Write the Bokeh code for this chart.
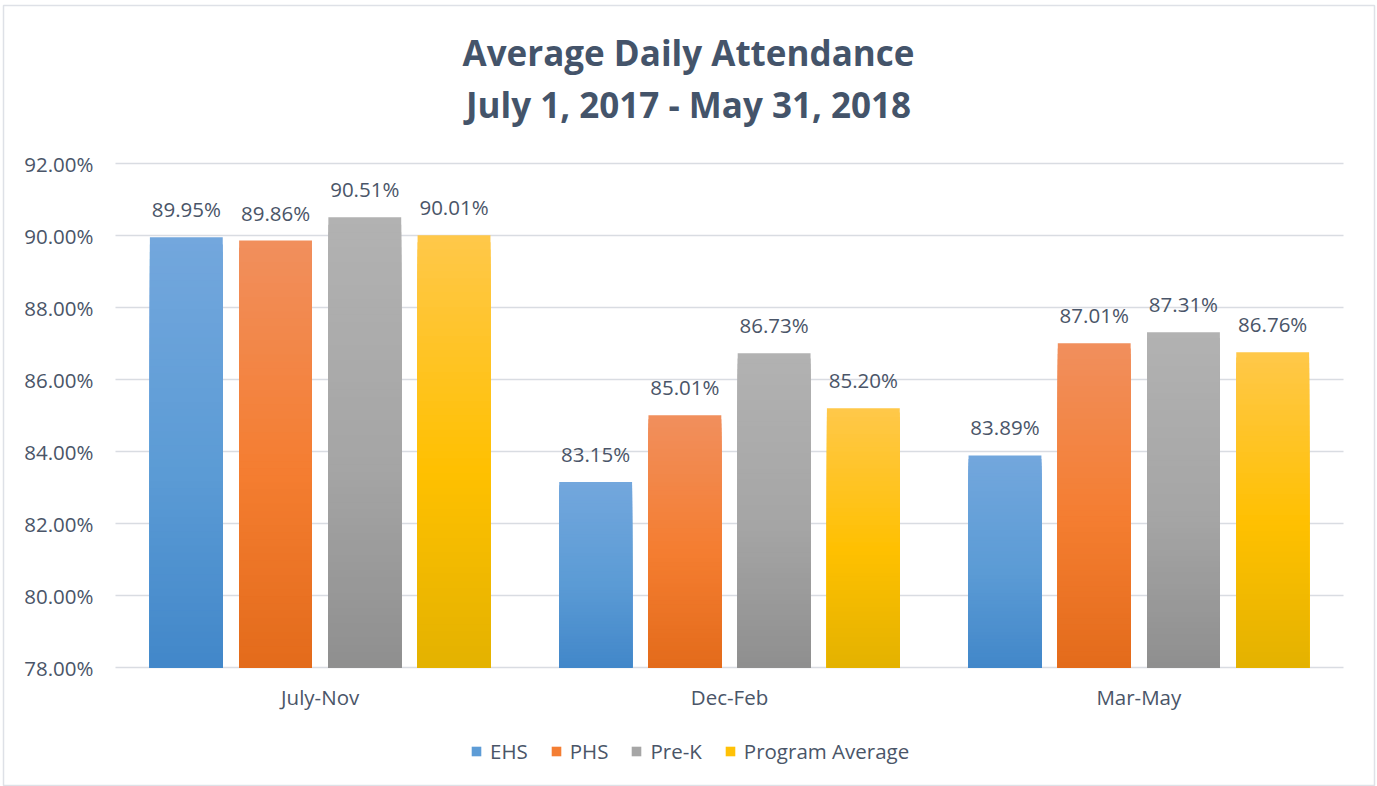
import numpy as np
from bokeh.plotting import figure
from bokeh.models import (ColumnDataSource, Range1d, FixedTicker, CustomJSTickFormatter,
                          PrintfTickFormatter, Legend, LegendItem, Label)
from bokeh.core.properties import value
from bokeh.embed import file_html
from bokeh.resources import INLINE

# ---------------- data ----------------
categories = ["July-Nov", "Dec-Feb", "Mar-May"]
series = ["EHS", "PHS", "Pre-K", "Program Average"]
ehs = [89.95, 83.15, 83.89]
phs = [89.86, 85.01, 87.01]
prek = [90.51, 86.73, 87.31]
prog_avg = [90.01, 85.20, 86.76]
y_ticks = [78, 80, 82, 84, 86, 88, 90, 92]
title_lines = ["Average Daily Attendance", "July 1, 2017 - May 31, 2018"]

values = [ehs, phs, prek, prog_avg]

# ---------------- style ----------------
BASE = 78
FONT = "Open Sans"
TEXT = "#44546A"
LABEL = "#4A5568"
GRID = "#D9DCE2"
BORDER = "#DEE1E7"
FS = "20.5px"
W, H = 1377, 786
PAD_L, PAD_T, PAD_R, PAD_B = 3, 5, 3, 0     # outer chart border
XL_PX, XR_PX = 115, 1343                      # plot area left / right
TOP_PX, BOT_PX = 163, 667                     # pixel rows of 92 % and 78 %
ncat = len(categories)
px_per_x = (XR_PX - XL_PX) / ncat
px_per_y = (BOT_PX - TOP_PX) / (y_ticks[-1] - y_ticks[0])

# gradient stops: bottom, middle, top
stops = [
    ("#4287C9", "#5B9BD5", "#73A7DD"),
    ("#E36B1B", "#F47D30", "#F18F5D"),
    ("#8F8F8F", "#A5A5A5", "#B2B2B2"),
    ("#E3B200", "#FFC000", "#FFC84A"),
]
offsets = [-0.327, -0.109, 0.109, 0.327]
BAR_W = 0.178
N = 60


def hex2rgb(h):
    h = h.lstrip("#")
    return np.array([int(h[i:i + 2], 16) for i in (0, 2, 4)], dtype=float)


def grad_color(stop, t):
    b, m, tp = (hex2rgb(c) for c in stop)
    mid = 0.45
    if t <= mid:
        c = b + (m - b) * (t / mid)
    else:
        c = m + (tp - m) * ((t - mid) / (1 - mid))
    c = np.clip(np.round(c), 0, 255).astype(int)
    return "#%02x%02x%02x" % tuple(c)


x_start = (PAD_L - XL_PX) / px_per_x
x_end = (W - PAD_R - XL_PX) / px_per_x
y_top = y_ticks[-1] + (TOP_PX - PAD_T) / px_per_y
y_bot = y_ticks[0] - (H - PAD_B - BOT_PX) / px_per_y

p = figure(x_range=Range1d(x_start, x_end), y_range=Range1d(y_bot, y_top),
           width=W, height=H, output_backend="svg", toolbar_location=None,
           min_border_left=PAD_L, min_border_right=PAD_R, min_border_top=PAD_T,
           min_border_bottom=PAD_B)
p.outline_line_color = BORDER
p.outline_line_width = 1.5
p.background_fill_color = "white"
p.border_fill_color = "white"
p.xgrid.grid_line_color = None
p.ygrid.grid_line_color = None

# gridlines over the plot area only
gsrc = ColumnDataSource(dict(y=y_ticks, x0=[0] * len(y_ticks), x1=[ncat] * len(y_ticks)))
p.segment(x0="x0", x1="x1", y0="y", y1="y", source=gsrc, line_color=GRID,
          line_width=1.5)

legend_items = []
for si, (name, vals) in enumerate(zip(series, values)):
    xs, tops, cols = [], [], []
    for ci, v in enumerate(vals):
        for k in range(N, 0, -1):
            xs.append(ci + 0.5 + offsets[si])
            tops.append(BASE + (v - BASE) * k / N)
            cols.append(grad_color(stops[si], (k - 0.5) / N))
    src = ColumnDataSource(dict(x=xs, top=tops, color=cols))
    r = p.vbar(x="x", top="top", bottom=BASE, width=BAR_W, fill_color="color",
               line_color=None, source=src)
    legend_items.append(LegendItem(label=name, renderers=[r], index=N // 2))

    lsrc = ColumnDataSource(dict(x=[ci + 0.5 + offsets[si] for ci in range(ncat)],
                                 val=vals, txt=["%.2f%%" % v for v in vals]))
    p.text(x="x", y="val", text="txt", source=lsrc, text_font=value(FONT),
           text_font_size=FS, text_color=LABEL, text_align="center",
           text_baseline="middle", y_offset=-28)

# axes (drawn inside the frame at fixed positions)
p.yaxis.fixed_location = 0
p.yaxis.ticker = FixedTicker(ticks=y_ticks)
p.yaxis.formatter = PrintfTickFormatter(format="%.2f%%")
p.yaxis.axis_line_color = None
p.yaxis.major_tick_line_color = None
p.yaxis.minor_tick_line_color = None
p.yaxis.major_tick_out = 0
p.yaxis.major_tick_in = 0
p.yaxis.major_label_standoff = 22
p.yaxis.major_label_text_font = FONT
p.yaxis.major_label_text_font_size = FS
p.yaxis.major_label_text_color = LABEL

p.xaxis.fixed_location = BASE
p.xaxis.ticker = FixedTicker(ticks=[i + 0.5 for i in range(ncat)])
p.xaxis.formatter = CustomJSTickFormatter(args=dict(names=categories),
                                          code="return names[Math.floor(tick)]")
p.xaxis.axis_line_color = None
p.xaxis.major_tick_line_color = None
p.xaxis.minor_tick_line_color = None
p.xaxis.major_tick_out = 0
p.xaxis.major_tick_in = 0
p.xaxis.major_label_standoff = 15
p.xaxis.major_label_text_font = FONT
p.xaxis.major_label_text_font_size = FS
p.xaxis.major_label_text_color = LABEL

# title
title_x = (688 - XL_PX) / px_per_x
for line, py in zip(title_lines, [52, 104]):
    p.add_layout(Label(x=title_x, y=y_ticks[-1] + (TOP_PX - py) / px_per_y,
                       text=line, text_align="center", text_baseline="middle",
                       text_font=FONT, text_font_size="35px",
                       text_font_style="bold", text_color=TEXT))

legend = Legend(items=legend_items, orientation="horizontal",
                location=(470 - PAD_L, H - PAD_B - 765),
                padding=0, margin=0, spacing=22, label_standoff=8,
                glyph_width=12, glyph_height=12, border_line_color=None,
                background_fill_alpha=0, label_text_font=FONT,
                label_text_font_size=FS, label_text_color=LABEL)
p.add_layout(legend)

open("out.html", "w").write(file_html(p, INLINE))
